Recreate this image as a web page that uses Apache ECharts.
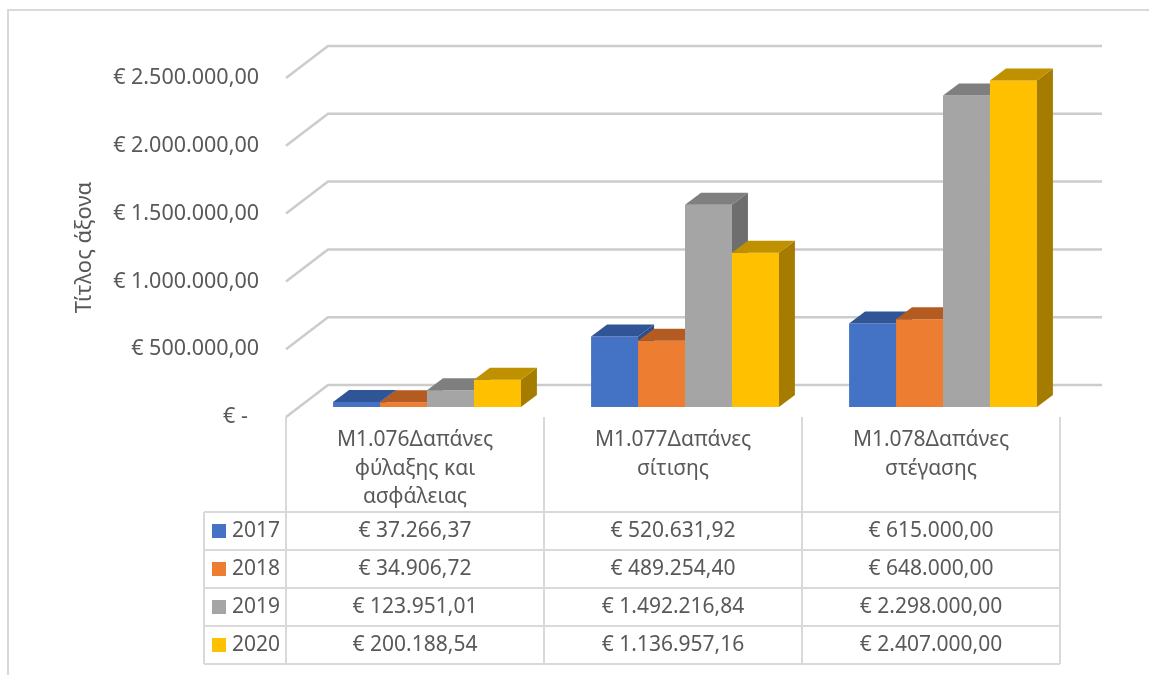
<!DOCTYPE html>
<html><head><meta charset="utf-8">
<script src="https://cdn.jsdelivr.net/npm/echarts@6/dist/echarts.min.js"></script>
<style>html,body{margin:0;padding:0;background:#fff}#c{width:1149px;height:675px}</style>
</head><body><div id="c"></div>
<script>
// ---- data ----
const categories = ['M1.076Δαπάνες φύλαξης και ασφάλειας', 'M1.077Δαπάνες σίτισης', 'M1.078Δαπάνες στέγασης'];
const years = ['2017', '2018', '2019', '2020'];
const values2017 = [37266.37, 520631.92, 615000.00];
const values2018 = [34906.72, 489254.40, 648000.00];
const values2019 = [123951.01, 1492216.84, 2298000.00];
const values2020 = [200188.54, 1136957.16, 2407000.00];
const yTicks = [0, 500000, 1000000, 1500000, 2000000, 2500000];
const axisTitle = 'Τίτλος άξονα';

const seriesValues = [values2017, values2018, values2019, values2020];

// ---- style ----
const frontColors = ['#4472C4', '#ED7D31', '#A5A5A5', '#FFC000'];
const topColors   = ['#2F5597', '#B45B22', '#7F7F7F', '#BF9000'];
const sideColors  = ['#2B4E8C', '#A9561F', '#6E6E6E', '#A67C00'];
const TXT = '#595959';
const FONT = '"Noto Sans", sans-serif';
const FS = 21;
const GRID = {left: 286, right: 89, top: 78, bottom: 258};
const WX = 42, WY = -32;   // wall depth
const PX = 12, PY = -10;   // bar plane offset
const BX = 16, BY = -12;   // bar depth

function fmtEuro(v) {
  if (v === 0) return '€ -';
  const s = v.toFixed(2).split('.');
  return '€ ' + s[0].replace(/\B(?=(\d{3})+(?!\d))/g, '.') + ',' + s[1];
}

// word wrap by whole words using canvas measurement
const mctx = document.createElement('canvas').getContext('2d');
function wrapWords(text, font, maxW) {
  mctx.font = font;
  const words = text.split(' ');
  const lines = [];
  let cur = '';
  words.forEach(wd => {
    const t = cur ? cur + ' ' + wd : wd;
    if (cur && mctx.measureText(t).width > maxW) { lines.push(cur); cur = wd; }
    else cur = t;
  });
  if (cur) lines.push(cur);
  return lines.join('\n');
}

const chart = echarts.init(document.getElementById('c'), null, {renderer: 'canvas'});

const wallSeries = {
  type: 'custom', coordinateSystem: 'cartesian2d', silent: true, z: 1,
  data: yTicks.map(v => [0, v]),
  renderItem(params, api) {
    const cs = params.coordSys;
    const y = api.coord([0, api.value(1)])[1];
    const x0 = cs.x, x1 = cs.x + cs.width;
    return {type: 'polyline', shape: {points: [[x0, y], [x0 + WX, y + WY], [x1 + WX, y + WY]]},
      style: {stroke: '#cccccc', lineWidth: 2.5, fill: null}};
  }
};

const barSeries = years.map((yr, si) => ({
  type: 'custom', name: yr, coordinateSystem: 'cartesian2d', z: 2 + si,
  data: seriesValues[si].map((v, ci) => [ci, v]),
  renderItem(params, api) {
    const ci = api.value(0), v = api.value(1);
    const top = api.coord([ci, v]);
    const base = api.coord([ci, 0]);
    const band = api.size([1, 0])[0];
    const w = band * 0.182;
    const L = top[0] - 2 * w + si * w + PX;
    const yt = top[1] + PY, yb = base[1] + PY;
    return {type: 'group', children: [
      {type: 'rect', shape: {x: L, y: yt, width: w, height: yb - yt}, style: {fill: frontColors[si]}},
      {type: 'polygon', shape: {points: [[L + w, yt], [L + w + BX, yt + BY], [L + w + BX, yb + BY], [L + w, yb]]}, style: {fill: sideColors[si]}},
      {type: 'polygon', shape: {points: [[L, yt], [L + w, yt], [L + w + BX, yt + BY], [L + BX, yt + BY]]}, style: {fill: topColors[si]}}
    ]};
  }
}));

// ---- data table (graphic) ----
const W = 1149, H = 675;
const plotW = W - GRID.left - GRID.right;
const band = plotW / categories.length;
const colX = categories.map((c, i) => GRID.left + i * band).concat([GRID.left + plotW]);
const floorY = H - GRID.bottom;
const headBottom = 512;
const rowH = 38;
const rowY = years.map((y, i) => headBottom + i * rowH).concat([headBottom + years.length * rowH]);
const tableLeft = 204;
const LINE = '#d9d9d9';
const fontStr = FS + 'px ' + FONT;

const g = [];
g.push({type: 'rect', shape: {x: 8, y: 10, width: 1300, height: 800}, style: {fill: null, stroke: LINE, lineWidth: 2}, silent: true});
colX.forEach(x => g.push({type: 'line', shape: {x1: x, y1: floorY, x2: x, y2: rowY[rowY.length - 1]}, style: {stroke: LINE, lineWidth: 2}}));
g.push({type: 'line', shape: {x1: tableLeft, y1: headBottom, x2: tableLeft, y2: rowY[rowY.length - 1]}, style: {stroke: LINE, lineWidth: 2}});
rowY.forEach(y => g.push({type: 'line', shape: {x1: tableLeft, y1: y, x2: colX[colX.length - 1], y2: y}, style: {stroke: LINE, lineWidth: 2}}));
categories.forEach((c, i) => g.push({type: 'text', style: {
  text: wrapWords(c, fontStr, 205), x: colX[i] + band / 2, y: 426, lineHeight: 28.5,
  align: 'center', verticalAlign: 'top', textAlign: 'center', textVerticalAlign: 'top',
  fill: TXT, font: fontStr}}));
years.forEach((yr, r) => {
  const cy = (rowY[r] + rowY[r + 1]) / 2;
  g.push({type: 'rect', shape: {x: 212, y: cy - 7, width: 14, height: 14}, style: {fill: frontColors[r]}});
  g.push({type: 'text', style: {text: yr, x: 232, y: cy, align: 'left', verticalAlign: 'middle', textAlign: 'left', textVerticalAlign: 'middle', fill: TXT, font: fontStr}});
  seriesValues[r].forEach((v, ci) => g.push({type: 'text', style: {
    text: fmtEuro(v), x: colX[ci] + band / 2, y: cy, align: 'center', verticalAlign: 'middle',
    textAlign: 'center', textVerticalAlign: 'middle', fill: TXT, font: fontStr}}));
});

chart.setOption({
  animation: false,
  backgroundColor: '#fff',
  grid: GRID,
  xAxis: {type: 'category', data: categories, axisLabel: {show: false}, axisLine: {show: false}, axisTick: {show: false}, splitLine: {show: false}},
  yAxis: {type: 'value', min: 0, max: 2500000, interval: 500000,
    name: axisTitle, nameLocation: 'middle', nameGap: 190,
    nameTextStyle: {color: TXT, fontSize: 22, fontFamily: FONT},
    axisLine: {show: false}, axisTick: {show: false}, splitLine: {show: false},
    axisLabel: {margin: 27, color: TXT, fontSize: 21.5, fontFamily: FONT,
      formatter: v => v === 0 ? fmtEuro(v) + '\u00a0\u00a0' : fmtEuro(v)}},
  series: [wallSeries].concat(barSeries),
  graphic: {elements: g}
});
</script></body></html>
